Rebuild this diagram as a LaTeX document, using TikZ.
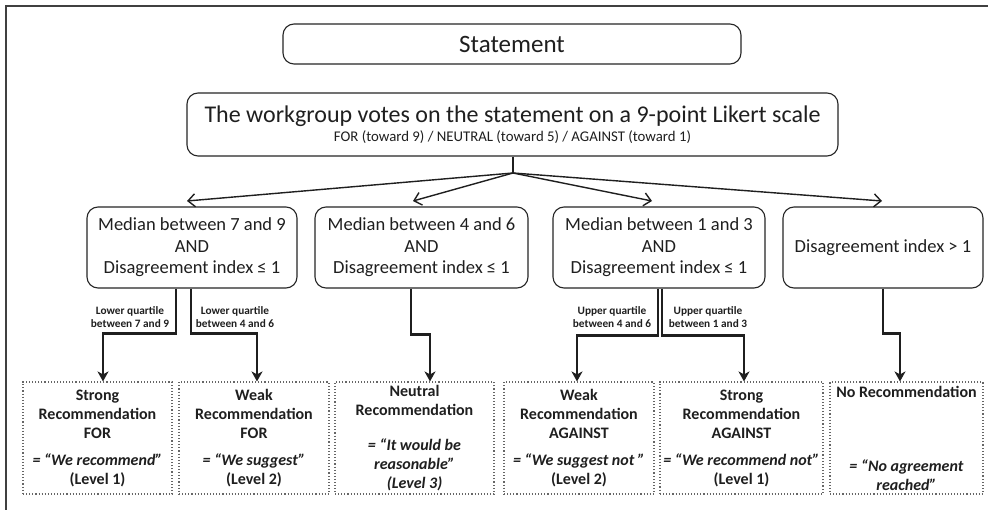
\documentclass[tikz,border=0pt]{standalone}
\usepackage{fontspec}
\setmainfont{Carlito}
\usetikzlibrary{arrows.meta,calc}
\begin{document}
\begin{tikzpicture}[x=1pt,y=-1pt,
  txt/.style={text=black!88},
  rbox/.style={draw=black!85, line width=1.1pt, rounded corners=11pt, align=center, txt, inner sep=0pt},
  lvtwo/.style={rbox, minimum height=81pt, font=\fontsize{18.5}{21.5}\selectfont},
  recbox/.style={draw=black!60, dotted, line width=1.1pt, minimum height=112pt, align=center, txt, inner sep=0pt, font=\bfseries\fontsize{16}{19}\selectfont},
  lbl/.style={txt, align=center, inner sep=0pt, font=\bfseries\fontsize{11.3}{12.5}\selectfont},
  toparrow/.style={draw=black!88, line width=1.4pt, -{Straight Barb[length=7pt,width=13pt]}},
  conn/.style={draw=black!88, line width=2.4pt, -{Stealth[length=10pt,width=11pt,inset=3pt]}}
]
\useasboundingbox (0,0) rectangle (988,510);
\fill[white] (0,0) rectangle (988,510);
\draw[line width=1.6pt, black!75] (6,520) -- (6,6) -- (1000,6);

% top boxes
\node[rbox, minimum width=458pt, minimum height=40pt, font=\fontsize{25}{28}\selectfont] (stmt) at (512,44) {Statement};
\node[rbox, minimum width=651pt, minimum height=63pt] (vote) at (512.5,124.5)
  {{\fontsize{24}{26}\selectfont The workgroup votes on the statement on a 9-point Likert scale}\\[3pt]
   {\fontsize{14.8}{15}\selectfont FOR (toward 9) / NEUTRAL (toward 5) / AGAINST (toward 1)}};

% level 2
\node[lvtwo, minimum width=210pt] (b1) at (192,247.5) {Median between 7 and 9\\AND\\Disagreement index ≤ 1};
\node[lvtwo, minimum width=213pt] (b2) at (421.5,247.5) {Median between 4 and 6\\AND\\Disagreement index ≤ 1};
\node[lvtwo, minimum width=212pt] (b3) at (659,247.5) {Median between 1 and 3\\AND\\Disagreement index ≤ 1};
\node[lvtwo, minimum width=200pt] (b4) at (883,247.5) {Disagreement index > 1};

% level 3
\node[recbox, minimum width=149pt] (r1) at (97.5,438) {Strong\\Recommendation\\FOR\\[8pt]\textit{= “We recommend”}\\(Level 1)};
\node[recbox, minimum width=150pt] (r2) at (254,438) {Weak\\Recommendation\\FOR\\[8pt]\textit{= “We suggest”}\\(Level 2)};
\node[recbox, minimum width=159pt] (r3) at (414.5,438) {Neutral\\Recommendation\\[16pt]\textit{= “It would be}\\\textit{reasonable”}\\\textit{(Level 3)}};
\node[recbox, minimum width=150pt] (r4) at (579,438) {Weak\\Recommendation\\AGAINST\\[8pt]\textit{= “We suggest not ”}\\(Level 2)};
\node[recbox, minimum width=163pt] (r5) at (741.5,438) {Strong\\Recommendation\\AGAINST\\[8pt]\textit{= “We recommend not”}\\(Level 1)};
\node[recbox, minimum width=153pt] (r6) at (906.5,438) {No Recommendation\\[55pt]\textit{= “No agreement}\\\textit{reached”}};

% branch arrows
\coordinate (J) at (513,173);
\coordinate (a1) at (187,201);
\coordinate (a2) at (413,201);
\coordinate (a3) at (652,201);
\coordinate (a4) at (882,201);
\draw[draw=black!88, line width=1.4pt] (vote.south -| J) -- (J);
\foreach \t in {a1,a2,a3,a4} \draw[toparrow] (J) -- (\t);

% lower connectors
\draw[conn] ([xshift=-16pt]b1.south) -- ++(0,45) -| ([xshift=5.5pt]r1.north);
\draw[conn] ([xshift=-1pt]b1.south) -- ++(0,45) -| ([xshift=3pt]r2.north);
\draw[conn] ([xshift=-10.5pt]b2.south) -- ++(0,46) -| ([xshift=15.5pt]r3.north);
\draw[conn] ([xshift=-1pt]b3.south) -- ++(0,47) -| ([xshift=-2pt]r4.north);
\draw[conn] ([xshift=3pt]b3.south) -- ++(0,47) -| ([xshift=2.5pt]r5.north);
\draw[conn] (b4.south) -- ++(0,45) -| ([xshift=-6.5pt]r6.north);

% labels
\node[lbl] (l1) at (130,317) {Lower quartile\\between 7 and 9};
\node[lbl] (l2) at (235,317) {Lower quartile\\between 4 and 6};
\node[lbl] (l3) at (612,317) {Upper quartile\\between 4 and 6};
\node[lbl] (l4) at (708,317) {Upper quartile\\between 1 and 3};
\end{tikzpicture}
\end{document}
